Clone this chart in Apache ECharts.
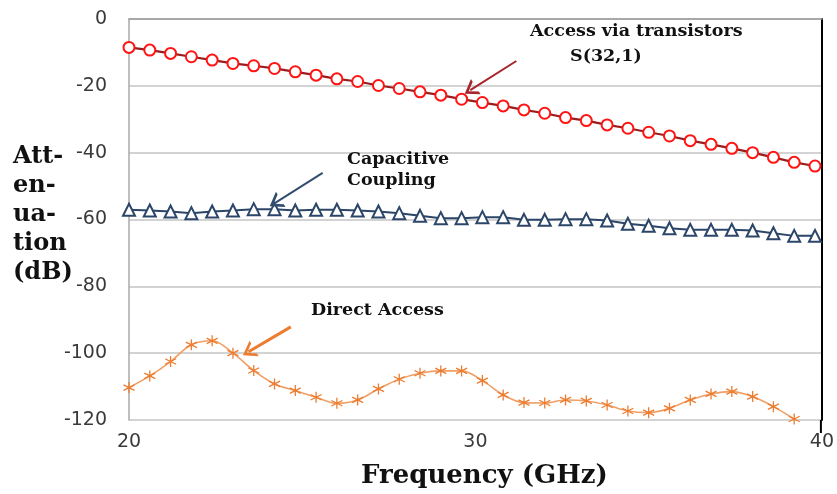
<!DOCTYPE html>
<html>
<head>
<meta charset="utf-8">
<script src="https://cdn.jsdelivr.net/npm/echarts@6/dist/echarts.min.js"></script>
<style>
  html, body { margin: 0; padding: 0; background: #fff; }
  #chart { width: 837px; height: 494px; }
</style>
</head>
<body>
<div id="chart"></div>
<script>
// frequency points (GHz)
var freq = [20, 20.6, 21.2, 21.8, 22.4, 23, 23.6, 24.2, 24.8, 25.4, 26, 26.6, 27.2, 27.8, 28.4, 29,
    29.6, 30.2, 30.8, 31.4, 32, 32.6, 33.2, 33.8, 34.4, 35, 35.6, 36.2, 36.8, 37.4, 38, 38.6, 39.2, 39.8];

// Access via transistors S(32,1)
var viaTransistors = [-8.5, -9.3, -10.3, -11.3, -12.3, -13.3, -14.0, -14.8, -15.8, -16.8, -17.9, -18.7,
    -19.9, -20.8, -21.8, -22.8, -24.0, -25.0, -26.0, -27.2, -28.2, -29.5, -30.4, -31.7, -32.7, -33.9,
    -35.0, -36.4, -37.5, -38.7, -40.0, -41.4, -42.9, -44.0];

// Capacitive coupling
var capacitive = [-57.1, -57.3, -57.6, -58.1, -57.6, -57.3, -56.9, -56.9, -57.3, -57.1, -57.1, -57.3,
    -57.6, -58.1, -58.9, -59.6, -59.6, -59.3, -59.3, -60.1, -60.1, -59.9, -59.9, -60.3, -61.3, -61.9,
    -62.6, -63.1, -63.1, -63.1, -63.3, -64.1, -64.9, -64.9];

// Direct access (last point falls off the bottom)
var directAccess = [-110.3, -106.8, -102.5, -97.5, -96.3, -100.0, -105.2, -109.2, -111.2, -113.2, -115.0,
    -114.0, -110.7, -107.8, -106.0, -105.3, -105.3, -108.2, -112.5, -114.8, -114.9, -114.0, -114.3,
    -115.5, -117.3, -117.8, -116.5, -114.0, -112.2, -111.5, -113.0, -116.0, -119.7];

var yTicks = [0, -20, -40, -60, -80, -100, -120];
var xTicks = [20, 30, 40];

// annotation arrows, [tail, head] in data units
var arrowRed = [[31.18, -12.56], [29.85, -21.3]];
var arrowBlue = [[25.59, -46.07], [24.22, -55.0]];
var arrowOrange = [[24.67, -92.13], [23.45, -99.6]];

var RED = '#ff1414', DARKRED = '#9a1d1d', NAVY = '#2b4668', ORANGE = '#ec7c30';
var serif = 'DejaVu Serif';
var chevron = 'path://M0,10L5,0L10,10L8.2,10L5,3.6L1.8,10Z';

function pairs(xs, ys) {
    var out = [];
    for (var i = 0; i < ys.length; i++) out.push([xs[i], ys[i]]);
    return out;
}

function arrow(a, color, width) {
    return {
        silent: true,
        animation: false,
        symbol: ['none', chevron],
        symbolSize: [18, 13],
        label: { show: false },
        lineStyle: { color: color, width: width, type: 'solid' },
        data: [[{ coord: a[0] }, { coord: a[1] }]]
    };
}

var chart = echarts.init(document.getElementById('chart'));

var option = {
    animation: false,
    backgroundColor: '#fff',
    grid: { left: 129, right: 14, top: 19, bottom: 74 },
    xAxis: {
        type: 'value', min: 20, max: 40, interval: 10,
        axisLine: { show: true, lineStyle: { color: '#9a9a9a', width: 1.5 } },
        axisTick: { show: false },
        splitLine: { show: false },
        axisLabel: {
            margin: 13, color: '#3a3a3a', fontSize: 19, fontFamily: 'DejaVu Sans',
            formatter: function (v) { return xTicks.indexOf(v) >= 0 ? String(v) : ''; }
        }
    },
    yAxis: [{
        type: 'value', min: -120, max: 0, interval: 20,
        axisLine: { show: true, onZero: false, lineStyle: { color: '#a8a8a8', width: 1.5 } },
        axisTick: { show: false },
        splitLine: { show: true, lineStyle: { color: '#c4c4c4', width: 1.5 } },
        axisLabel: {
            margin: 22, color: '#3a3a3a', fontSize: 19, fontFamily: 'DejaVu Sans',
            formatter: function (v) { return yTicks.indexOf(v) >= 0 ? String(v) : ''; }
        }
    }, {
        type: 'value', min: -120, max: 0, position: 'right',
        axisLine: { show: true, lineStyle: { color: '#000', width: 2 } },
        axisTick: { show: false }, axisLabel: { show: false }, splitLine: { show: false }
    }],
    series: [{
        name: 'Access via transistors S(32,1)',
        type: 'line',
        data: pairs(freq, viaTransistors),
        symbol: 'emptyCircle',
        symbolSize: 11,
        showAllSymbol: true,
        z: 4,
        lineStyle: { color: DARKRED, width: 2.2 },
        itemStyle: { color: RED, borderColor: RED, borderWidth: 3 },
        markLine: arrow(arrowRed, '#a8262b', 2)
    }, {
        name: 'Capacitive Coupling',
        type: 'line',
        data: pairs(freq, capacitive),
        symbol: 'emptyTriangle',
        symbolSize: 12,
        showAllSymbol: true,
        z: 3,
        lineStyle: { color: NAVY, width: 2 },
        itemStyle: { color: NAVY, borderColor: NAVY, borderWidth: 2.6 },
        markLine: arrow(arrowBlue, '#334d6e', 2)
    }, {
        name: 'Direct Access',
        type: 'line',
        data: pairs(freq, directAccess),
        smooth: 0.35,
        symbol: 'path://M5,0L5,10M0.7,2.5L9.3,7.5M9.3,2.5L0.7,7.5',
        symbolSize: 11,
        showAllSymbol: true,
        z: 2,
        lineStyle: { color: '#f0a066', width: 1.6 },
        itemStyle: { color: 'none', borderColor: ORANGE, borderWidth: 1.3 },
        markLine: arrow(arrowOrange, ORANGE, 3)
    }],
    graphic: [
        { type: 'text', left: 13, top: 142, z: 100,
          style: { text: 'Att-\nen-\nua-\ntion\n(dB)', font: 'bold 24px "' + serif + '"', lineHeight: 29, fill: '#111' } },
        { type: 'text', left: 361, top: 463, z: 100,
          style: { text: 'Frequency (GHz)', font: 'bold 26px "' + serif + '"', fill: '#111' } },
        { type: 'text', left: 530, top: 22, z: 100,
          style: { text: 'Access via transistors', font: 'bold 17.5px "' + serif + '"', fill: '#111' } },
        { type: 'text', left: 570, top: 47, z: 100,
          style: { text: 'S(32,1)', font: 'bold 17.5px "' + serif + '"', fill: '#111' } },
        { type: 'text', left: 347, top: 149, z: 100,
          style: { text: 'Capacitive\nCoupling', font: 'bold 17.5px "' + serif + '"', lineHeight: 21, fill: '#111' } },
        { type: 'text', left: 311, top: 301, z: 100,
          style: { text: 'Direct Access', font: 'bold 17.5px "' + serif + '"', fill: '#111' } }
    ]
};

chart.setOption(option);

// the black right-hand frame line runs a little below the x axis
var base40 = chart.convertToPixel({ xAxisIndex: 0, yAxisIndex: 0 }, [40, -120]);
chart.setOption({
    graphic: option.graphic.concat([{
        type: 'line', z: 50,
        shape: { x1: base40[0] - 1, y1: base40[1], x2: base40[0] - 1, y2: base40[1] + 13 },
        style: { stroke: '#000', lineWidth: 2 }
    }])
});
</script>
</body>
</html>
